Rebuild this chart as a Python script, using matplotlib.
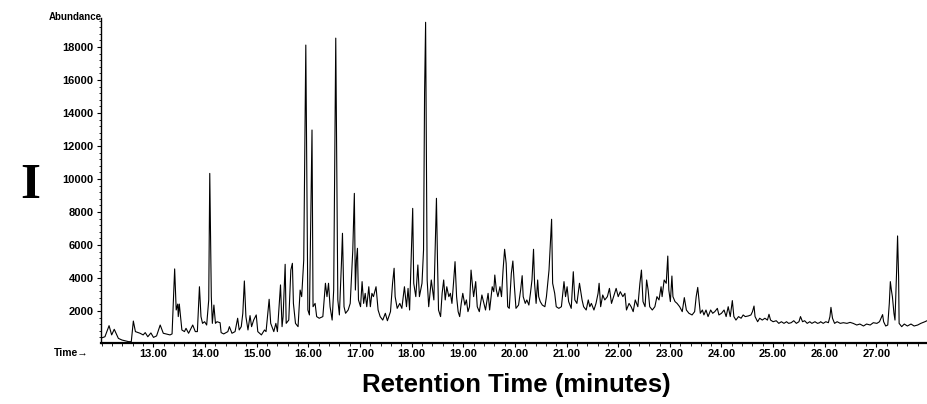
import matplotlib
matplotlib.use("Agg")
import matplotlib.pyplot as plt
from matplotlib.ticker import MultipleLocator, FixedLocator, FormatStrFormatter

# digitised total ion chromatogram (retention time in min, abundance)
time = [11.98, 12.06, 12.14, 12.19, 12.24, 12.32, 12.39, 12.52, 12.57, 12.61,
        12.65, 12.74, 12.80, 12.84, 12.89, 12.95, 13.00, 13.06, 13.13, 13.19,
        13.32, 13.36, 13.41, 13.44, 13.47, 13.48, 13.50, 13.55, 13.60, 13.63,
        13.68, 13.76, 13.81, 13.85, 13.89, 13.92, 13.95, 13.99, 14.03, 14.07,
        14.09, 14.12, 14.14, 14.17, 14.20, 14.23, 14.29,
        14.31, 14.36, 14.44, 14.47, 14.52, 14.58, 14.63, 14.66, 14.70, 14.73,
        14.76, 14.79, 14.83, 14.87, 14.90, 14.94, 14.99, 15.02, 15.09, 15.15,
        15.18, 15.24, 15.27, 15.33, 15.37, 15.40, 15.46, 15.49, 15.51, 15.55,
        15.57, 15.62, 15.66, 15.69, 15.71, 15.75, 15.80, 15.84, 15.87, 15.91,
        15.95, 15.99, 16.02, 16.07, 16.09, 16.13, 16.16, 16.21, 16.28, 16.33,
        16.36, 16.39, 16.42, 16.46, 16.49, 16.53, 16.57, 16.60,
        16.64, 16.66, 16.69, 16.72, 16.77, 16.81, 16.86, 16.89, 16.91, 16.93,
        16.95, 16.97, 17.01, 17.04, 17.07, 17.10, 17.13, 17.17, 17.20, 17.23,
        17.26, 17.31, 17.35, 17.39, 17.44, 17.49, 17.53, 17.59, 17.63, 17.66,
        17.68, 17.72, 17.77, 17.81, 17.86, 17.90, 17.93, 17.96, 17.99, 18.02,
        18.04, 18.08, 18.12, 18.15, 18.20, 18.23, 18.25, 18.27, 18.30, 18.33,
        18.38, 18.43, 18.46, 18.48, 18.50, 18.52, 18.56, 18.59, 18.62, 18.65,
        18.68, 18.72, 18.75, 18.78, 18.81, 18.84, 18.87, 18.90,
        18.93, 18.96, 18.99, 19.03, 19.06, 19.09, 19.12, 19.15, 19.18, 19.20,
        19.24, 19.27, 19.31, 19.36, 19.40, 19.43, 19.48, 19.51, 19.56, 19.59,
        19.61, 19.64, 19.67, 19.71, 19.74, 19.77, 19.80, 19.83, 19.86, 19.89,
        19.93, 19.96, 19.99, 20.02, 20.07, 20.11, 20.14, 20.16, 20.20, 20.23,
        20.27, 20.30, 20.33, 20.36, 20.38, 20.41, 20.44, 20.46, 20.49, 20.53,
        20.58, 20.61, 20.66, 20.68, 20.71, 20.73, 20.77, 20.80, 20.85, 20.90,
        20.95, 20.98, 21.01, 21.04, 21.09, 21.13, 21.16, 21.20, 21.25,
        21.30, 21.33, 21.38, 21.42, 21.45, 21.48, 21.53, 21.57, 21.61, 21.63,
        21.66, 21.70, 21.74, 21.79, 21.83, 21.87, 21.91, 21.96, 22.00, 22.04,
        22.09, 22.13, 22.16, 22.21, 22.25, 22.29, 22.33, 22.38, 22.42, 22.45,
        22.48, 22.52, 22.55, 22.58, 22.61, 22.66, 22.71, 22.75, 22.79, 22.83,
        22.85, 22.89, 22.93, 22.96, 22.98, 23.01, 23.04, 23.06, 23.10, 23.14,
        23.19, 23.24, 23.28, 23.32, 23.37, 23.43, 23.48, 23.51, 23.54,
        23.59, 23.63, 23.66, 23.70, 23.74, 23.79, 23.83, 23.87, 23.92, 23.95,
        24.00, 24.05, 24.09, 24.13, 24.17, 24.21, 24.24, 24.28, 24.33, 24.38,
        24.42, 24.46, 24.52, 24.57, 24.60, 24.63, 24.65, 24.70, 24.74, 24.79,
        24.84, 24.89, 24.92, 24.95, 25.00, 25.06, 25.11, 25.16, 25.21, 25.26,
        25.30, 25.35, 25.40, 25.45, 25.50, 25.53, 25.57, 25.61, 25.66, 25.71,
        25.75, 25.81, 25.86, 25.90,
        25.92, 25.97, 26.02, 26.07, 26.10, 26.12, 26.15, 26.19, 26.24, 26.30,
        26.36, 26.43, 26.49, 26.55, 26.62, 26.68, 26.75, 26.81, 26.88, 26.94,
        27.01, 27.06, 27.09, 27.12, 27.14, 27.18, 27.22, 27.25, 27.27, 27.29,
        27.31, 27.34, 27.36, 27.39, 27.41, 27.43, 27.44, 27.49, 27.54, 27.60,
        27.67, 27.73, 27.80, 27.86, 27.94, 27.98]

abundance = [350, 440, 1110, 550, 890, 340, 240, 140, 140, 1390,
             750, 650, 550, 690, 440, 670, 400, 490, 1150, 650,
             550, 610, 4550, 2060, 2420, 1660, 2420, 850, 750, 950,
             650, 1150, 750, 750, 3470, 1660, 1250, 1350, 1150, 2670,
             10340, 2870, 1250, 2360, 1250, 1350, 1290,
             690, 610, 750, 1050, 650, 750, 1560, 850, 1050, 1860,
             3820, 1660, 850, 1720, 1050, 1450, 1760, 750, 550, 850,
             750, 2710, 1250, 750, 1250, 750, 3580, 1050, 1660, 4830,
             1250, 1450, 4480, 4890, 2460, 1250, 1050, 3270, 2870, 5090,
             18120, 2060, 1760, 12970, 2260, 2460, 1660, 1560, 1660, 3680,
             2870, 3680, 2260, 1450, 3270, 18540, 2670, 1760,
             4890, 6710, 2260, 1860, 2060, 2460, 5700, 9130, 3270, 5090,
             5800, 2670, 2260, 3780, 2460, 3070, 2260, 3470, 2260, 3070,
             2870, 3470, 2060, 1660, 1450, 1860, 1410, 1960, 3680, 4590,
             2870, 2160, 2460, 2160, 3470, 2260, 3370, 2060, 5090, 8220,
             3680, 2870, 4790, 2870, 3680, 5700, 15200, 19500, 3880, 2260,
             3880, 2670, 6300, 8830, 5090, 2060, 1660, 3070, 3880, 2670,
             3470, 2870, 3070, 2460, 3680, 4990, 2870, 1960,
             1660, 2460, 3070, 2360, 2670, 1960, 2260, 4480, 3470, 2870,
             3780, 2260, 1960, 2970, 2460, 2060, 3070, 2060, 3470, 3170,
             4180, 3270, 2870, 3470, 2870, 4480, 5740, 4890, 2260, 2160,
             4280, 5030, 3470, 2160, 2360, 3270, 4140, 2870, 2460, 2670,
             2360, 3070, 3880, 5740, 3680, 2460, 3880, 2870, 2570, 2360,
             2260, 2870, 4480, 5700, 7560, 3680, 3070, 2260, 2160, 2260,
             3780, 2870, 3470, 2570, 2160, 4380, 2670, 2460, 3680,
             2670, 2260, 2060, 2670, 2260, 2460, 2060, 2460, 3070, 3680,
             2260, 2970, 2670, 2870, 3370, 2460, 2870, 3370, 2870, 3170,
             2870, 3070, 2060, 2460, 2260, 1960, 2670, 2260, 3680, 4480,
             2570, 2260, 3880, 3270, 2260, 2060, 2260, 2870, 2670, 3470,
             2870, 3880, 3680, 5330, 3270, 2570, 4120, 2870, 2570, 2460,
             2260, 1960, 2810, 2060, 1860, 1760, 1960, 2870, 3430,
             1860, 2060, 1760, 2060, 1660, 2060, 1860, 1960, 2160, 1760,
             1860, 2060, 1660, 2260, 1660, 2630, 1660, 1450, 1660, 1560,
             1760, 1660, 1700, 1760, 1960, 2300, 1660, 1350, 1560, 1450,
             1560, 1450, 1800, 1450, 1350, 1410, 1250, 1350, 1250, 1350,
             1250, 1290, 1410, 1250, 1350, 1660, 1350, 1410, 1250, 1350,
             1250, 1350, 1250, 1290,
             1350, 1250, 1350, 1290, 1660, 2220, 1560, 1250, 1350, 1250,
             1290, 1250, 1310, 1250, 1150, 1210, 1090, 1210, 1150, 1290,
             1250, 1350, 1560, 1780, 1350, 1090, 1150, 2460, 3780, 3270,
             2870, 1860, 1450, 4280, 6550, 4080, 1250, 1050, 1210, 1090,
             1210, 1090, 1150, 1250, 1350, 1410]

y_ticks = [2000, 4000, 6000, 8000, 10000, 12000, 14000, 16000, 18000]
x_ticks = [13, 14, 15, 16, 17, 18, 19, 20, 21, 22, 23, 24, 25, 26, 27]

plt.rcParams['font.family'] = ['Liberation Sans', 'DejaVu Sans']
plt.rcParams['font.weight'] = 'bold'

fig = plt.figure(figsize=(9.27, 4.04), dpi=100)
ax = fig.add_axes([100.5/927, 1 - 342.5/404, 1 - 100.5/927, (342.5 - 18)/404])

ax.plot(time, abundance, color='black', lw=0.8)

ax.set_xlim(11.974, 27.98)
ax.set_ylim(90, 19760)

ax.spines['top'].set_visible(False)
ax.spines['right'].set_visible(False)
ax.spines['left'].set_linewidth(1.0)
ax.spines['bottom'].set_linewidth(1.6)

ax.xaxis.set_major_locator(FixedLocator(x_ticks))
ax.xaxis.set_minor_locator(MultipleLocator(0.2))
ax.xaxis.set_major_formatter(FormatStrFormatter('%.2f'))
ax.yaxis.set_major_locator(FixedLocator(y_ticks))
ax.yaxis.set_minor_locator(MultipleLocator(400))

ax.tick_params(which='major', length=3, width=0.8, labelsize=8, pad=2)
ax.tick_params(which='minor', length=1.8, width=0.6)
for lab in ax.get_xticklabels() + ax.get_yticklabels():
    lab.set_fontweight('bold')

fig.text(102/927, 1 - 17.5/404, 'Abundance', ha='right', va='center',
         fontsize=7, fontweight='bold')
fig.text(88/927, 1 - 353/404, 'Time\u2192', ha='right', va='center',
         fontsize=7.5, fontweight='bold')
fig.text(30/927, 1 - 186/404, 'I', ha='center', va='center',
         fontsize=37, fontweight='bold', family='Liberation Serif')
fig.text(516/927, 1 - 385/404, 'Retention Time (minutes)', ha='center',
         va='center', fontsize=18.5, fontweight='bold')

fig.savefig('out.png', dpi=100)
